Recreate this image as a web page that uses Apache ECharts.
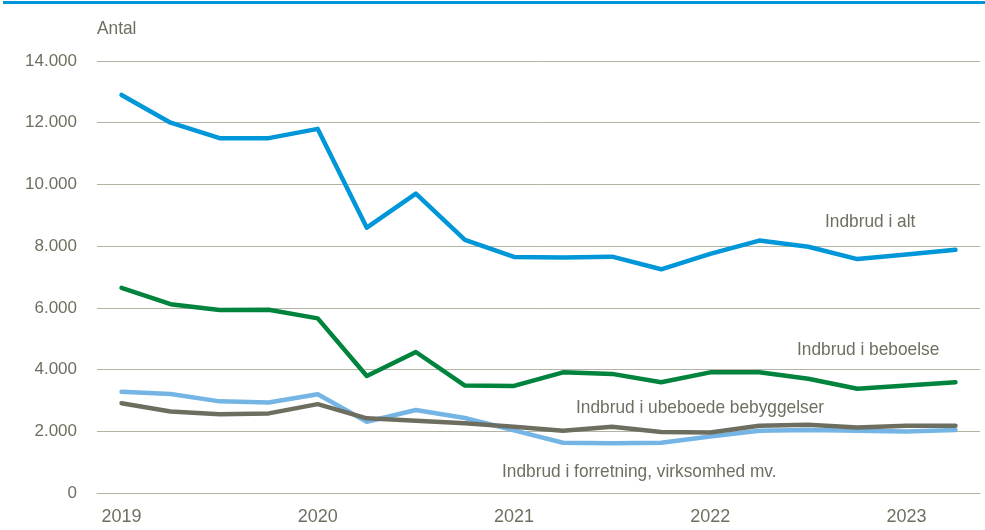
<!DOCTYPE html>
<html>
<head>
<meta charset="utf-8">
<script src="https://cdn.jsdelivr.net/npm/echarts@6/dist/echarts.min.js"></script>
<style>
html,body{margin:0;padding:0;background:#fff;}
#chart{width:985px;height:530px;}
</style>
</head>
<body>
<div id="chart"></div>
<script>
var quarters = ['2019K1','2019K2','2019K3','2019K4','2020K1','2020K2','2020K3','2020K4','2021K1','2021K2','2021K3','2021K4','2022K1','2022K2','2022K3','2022K4','2023K1','2023K2'];
var yearTicks = ['2019','2020','2021','2022','2023'];
var indbrudIAlt = [12900, 12000, 11500, 11500, 11800, 8600, 9700, 8200, 7650, 7630, 7660, 7250, 7750, 8180, 7980, 7580, 7730, 7880];
var beboelse = [6650, 6120, 5930, 5940, 5660, 3790, 4570, 3480, 3470, 3910, 3860, 3590, 3910, 3910, 3700, 3380, 3480, 3590];
var forretning = [3280, 3210, 2970, 2930, 3200, 2310, 2690, 2430, 2030, 1630, 1610, 1630, 1830, 2020, 2040, 2020, 1990, 2040];
var ubeboede = [2910, 2640, 2550, 2580, 2880, 2420, 2340, 2260, 2150, 2020, 2150, 1980, 1960, 2180, 2210, 2120, 2180, 2180];
var seriesNames = ['Indbrud i alt','Indbrud i beboelse','Indbrud i ubeboede bebyggelser','Indbrud i forretning, virksomhed mv.'];

var FONT = '"Liberation Sans Narrow", "Arial Narrow", "Liberation Sans", sans-serif';
var TXT = '#6f6f61';
var chart = echarts.init(document.getElementById('chart'), null, {renderer:'canvas'});

function lineSeries(name, data, color, z){
  return {name:name, type:'line', data:data, symbol:'none', z:z,
    lineStyle:{color:color, width:4.5, cap:'round', join:'round'}, itemStyle:{color:color}};
}
function label(text, x, y){
  return {type:'text', x:x, y:y, scaleX:0.91, style:{text:text, fill:TXT, font:'19px ' + FONT, textVerticalAlign:'middle'}};
}

chart.setOption({
  animation:false,
  backgroundColor:'#fff',
  grid:{left:97, right:5, top:61, bottom:37, containLabel:false},
  xAxis:{type:'category', data:quarters, boundaryGap:true,
    axisLine:{show:true, lineStyle:{color:'#b3b3a3', width:1}},
    axisTick:{show:false},
    axisLabel:{interval:3, margin:15, color:TXT, fontFamily:FONT, fontSize:18,
      formatter:function(v, i){ return yearTicks[i/4] || ''; }}
  },
  yAxis:{type:'value', min:0, max:14000, interval:2000,
    axisLine:{show:false}, axisTick:{show:false},
    splitLine:{lineStyle:{color:'#b3b3a3', width:1}},
    axisLabel:{margin:20, color:TXT, fontFamily:FONT, fontSize:17,
      formatter:function(v){ return v === 0 ? '0' : String(v).replace(/\B(?=(\d{3})+(?!\d))/g, '.'); }}
  },
  series:[
    lineSeries(seriesNames[3], forretning, '#74b5e6', 2),
    lineSeries(seriesNames[2], ubeboede, '#6e6e60', 3),
    lineSeries(seriesNames[1], beboelse, '#00843d', 4),
    lineSeries(seriesNames[0], indbrudIAlt, '#0097d9', 5)
  ],
  graphic:[
    {type:'rect', left:3, top:1, shape:{width:982, height:3}, style:{fill:'#0095d6'}},
    label('Antal', 97, 29),
    label(seriesNames[0], 825, 222),
    label(seriesNames[1], 797, 350),
    label(seriesNames[2], 576, 408),
    label(seriesNames[3], 502, 472)
  ]
});
</script>
</body>
</html>
